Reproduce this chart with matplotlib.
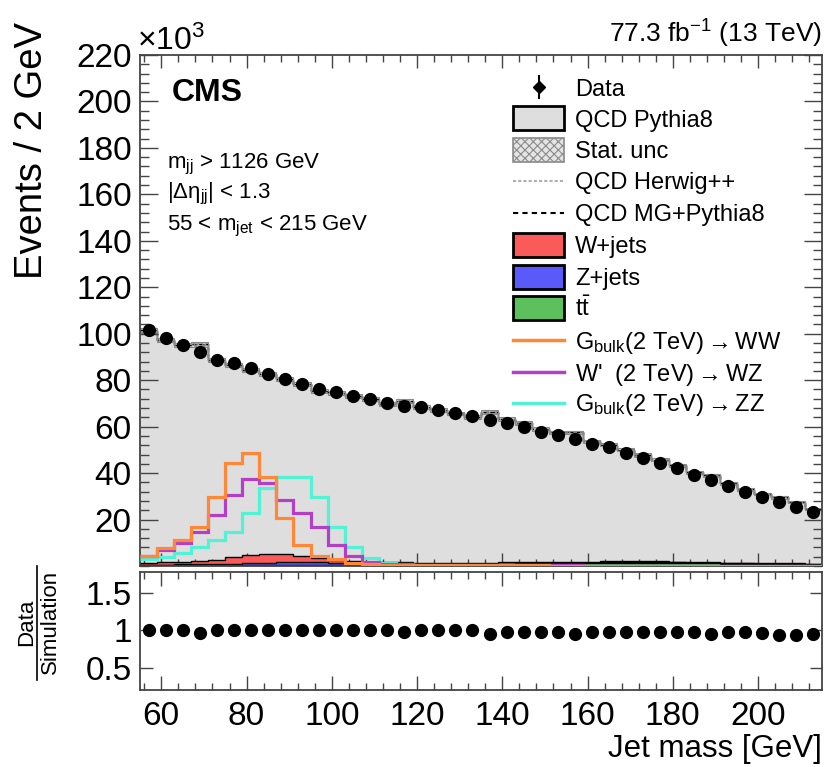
import numpy as np
import matplotlib
matplotlib.use('Agg')
import matplotlib.pyplot as plt
from matplotlib.patches import Rectangle
from matplotlib.lines import Line2D
from matplotlib.ticker import MultipleLocator, FixedLocator, FixedFormatter

plt.rcParams['font.family'] = ['Liberation Sans', 'DejaVu Sans']
plt.rcParams['mathtext.fontset'] = 'custom'
plt.rcParams['mathtext.rm'] = 'Liberation Sans'
plt.rcParams['mathtext.it'] = 'Liberation Sans:italic'
plt.rcParams['mathtext.bf'] = 'Liberation Sans:bold'
plt.rcParams['mathtext.fallback'] = 'stixsans'
plt.rcParams['hatch.linewidth'] = 0.8

# ---------------- data (values in units of 10^3 events) ----------------
bin_edges = list(range(55, 216, 4))   # 40 bins of 4 GeV, 55..215

data = [101.7, 98.1, 95.3, 92.0, 88.8, 87.4, 85.2, 82.8, 80.5, 78.3,
        76.1, 74.7, 73.3, 72.0, 70.2, 69.0, 68.4, 67.2, 65.8, 64.4,
        62.9, 61.5, 59.8, 57.9, 56.5, 54.6, 52.6, 51.2, 48.6, 46.4,
        44.3, 42.1, 39.2, 37.1, 34.5, 32.0, 29.9, 27.7, 25.6, 23.4]

qcd_pythia = [101.5, 97.3, 95.2, 95.4, 88.7, 86.6, 84.4, 82.6, 80.4, 78.2,
              75.4, 74.6, 73.2, 71.9, 69.6, 71.0, 68.3, 67.1, 65.7, 64.3,
              66.2, 63.4, 61.6, 59.1, 57.6, 57.5, 53.7, 52.2, 50.1, 47.8,
              45.7, 43.4, 40.4, 39.1, 35.6, 33.0, 31.1, 29.5, 27.5, 24.6]

stat_unc = [1.0, 1.0, 1.0, 1.0, 0.9, 0.9, 0.9, 0.9, 0.9, 0.9,
            0.9, 0.9, 0.9, 0.9, 0.8, 0.8, 0.8, 0.8, 0.8, 0.8,
            0.8, 0.8, 0.8, 0.8, 0.7, 0.7, 0.7, 0.7, 0.7, 0.7,
            0.7, 0.6, 0.6, 0.6, 0.6, 0.6, 0.5, 0.5, 0.5, 0.5]

wjets = [0.9, 1.0, 1.1, 1.3, 1.8, 2.8, 3.6, 3.8, 3.4, 2.6,
         1.8, 1.2, 0.9, 0.8, 0.7, 0.7, 0.6, 0.6, 0.6, 0.5,
         0.5, 0.5, 0.5, 0.5, 0.4, 0.4, 0.4, 0.4, 0.4, 0.4,
         0.4, 0.3, 0.3, 0.3, 0.3, 0.3, 0.3, 0.3, 0.3, 0.3]
zjets = [0.3, 0.3, 0.35, 0.4, 0.45, 0.5, 0.6, 0.8, 1.1, 1.3,
         1.1, 0.8, 0.6, 0.45, 0.4, 0.35, 0.3, 0.3, 0.3, 0.3,
         0.25, 0.25, 0.25, 0.25, 0.25, 0.2, 0.2, 0.2, 0.2, 0.2,
         0.2, 0.2, 0.2, 0.2, 0.2, 0.2, 0.2, 0.2, 0.2, 0.2]
ttbar = [0.3, 0.3, 0.3, 0.35, 0.4, 0.45, 0.5, 0.5, 0.5, 0.5,
         0.45, 0.45, 0.45, 0.45, 0.5, 0.5, 0.5, 0.55, 0.6, 0.65,
         0.7, 0.8, 0.9, 1.0, 1.1, 1.2, 1.3, 1.4, 1.5, 1.5,
         1.5, 1.4, 1.3, 1.1, 1.0, 0.9, 0.8, 0.7, 0.6, 0.5]

sig_ww = [4.5, 7.6, 11.0, 17.0, 29.6, 44.3, 48.6, 38.5, 20.5, 9.0,
          4.5, 3.0, 1.5, 0.9, 0.6, 0.5, 0.4, 0.4, 0.3, 0.3,
          0.3, 0.3, 0.3, 0.3, 0.2, 0.2, 0.2, 0.2, 0.2, 0.2,
          0.2, 0.2, 0.2, 0.2, 0.1, 0.1, 0.1, 0.1, 0.1, 0.1]
sig_wz = [4.5, 6.8, 10.0, 14.5, 22.0, 30.6, 37.4, 35.6, 28.4, 22.7,
          17.0, 9.0, 4.5, 1.8, 1.0, 0.7, 0.5, 0.5, 0.4, 0.4,
          0.4, 0.3, 0.3, 0.3, 0.3, 0.3, 0.2, 0.2, 0.2, 0.2,
          0.2, 0.2, 0.2, 0.2, 0.2, 0.1, 0.1, 0.1, 0.1, 0.1]
sig_zz = [3.0, 4.0, 5.5, 8.0, 11.2, 14.8, 23.0, 33.5, 38.5, 38.5,
          29.9, 16.9, 8.3, 3.3, 1.5, 0.8, 0.6, 0.5, 0.5, 0.4,
          0.4, 0.3, 0.3, 0.3, 0.3, 0.3, 0.2, 0.2, 0.2, 0.2,
          0.2, 0.2, 0.2, 0.2, 0.2, 0.1, 0.1, 0.1, 0.1, 0.1]

ratio = [1.00, 1.01, 1.00, 0.96, 1.00, 1.01, 1.01, 1.00, 1.00, 1.00,
         1.01, 1.00, 1.00, 1.00, 1.01, 0.97, 1.00, 1.00, 1.00, 1.00,
         0.95, 0.97, 0.97, 0.98, 0.98, 0.95, 0.98, 0.98, 0.97, 0.97,
         0.97, 0.97, 0.97, 0.95, 0.97, 0.97, 0.96, 0.94, 0.93, 0.95]

y_ticks = [20, 40, 60, 80, 100, 120, 140, 160, 180, 200, 220]
x_ticks = [60, 80, 100, 120, 140, 160, 180, 200]
r_ticks = [0.5, 1.0, 1.5]
r_tick_labels = ['0.5', '1', '1.5']

legend_labels = ['Data', 'QCD Pythia8', 'Stat. unc', 'QCD Herwig++', 'QCD MG+Pythia8',
                 'W+jets', 'Z+jets', r't$\bar{\mathrm{t}}$',
                 r'G$_{\mathrm{bulk}}$(2 TeV)$\rightarrow$WW',
                 r"W'  (2 TeV)$\rightarrow$WZ",
                 r'G$_{\mathrm{bulk}}$(2 TeV)$\rightarrow$ZZ']

# ---------------- styles ----------------
C_QCD = '#dedede'
C_W = '#fa5a5a'
C_Z = '#5a5afa'
C_TT = '#5cc05c'
C_WW = '#ff8838'
C_WZ = '#b23fc6'
C_ZZ = '#52f2d4'
FRAME = '#444444'

W, H = 827, 767
fig = plt.figure(figsize=(W / 100, H / 100), dpi=100)

def ftext(x, y, s, **kw):
    return fig.text(x / W, 1 - y / H, s, **kw)

edges = np.array(bin_edges, dtype=float)
centers = 0.5 * (edges[:-1] + edges[1:])
qcd = np.array(qcd_pythia)
unc = np.array(stat_unc)

ax = fig.add_axes([140 / W, 1 - 566 / H, 682 / W, 511 / H])
rax = fig.add_axes([140 / W, 1 - 690 / H, 682 / W, 118 / H])

# QCD fill
ax.stairs(qcd, edges, fill=True, facecolor=C_QCD, edgecolor='none', zorder=1)
ax.stairs(qcd, edges, baseline=None, color='k', lw=1.0, zorder=1.1)
# other QCD generators (coincide with data)
ax.stairs(qcd, edges, baseline=None, color='#b0b0b0', lw=1.0, ls=(0, (1.5, 1.0)), zorder=1.15)
ax.stairs(qcd, edges, baseline=None, color='k', lw=1.0, ls=(0, (2.5, 2.0)), zorder=1.16)
# stat unc band
ax.stairs(qcd + unc, edges, baseline=qcd - unc, fill=True, facecolor='none',
          edgecolor='#8a8a8a', hatch='xxxx', lw=0.8, zorder=1.2)

# small backgrounds (stacked)
s1 = np.array(ttbar)
s2 = s1 + np.array(zjets)
s3 = s2 + np.array(wjets)
ax.stairs(s3, edges, fill=True, facecolor=C_W, edgecolor='k', lw=1.0, zorder=2)
ax.stairs(s2, edges, fill=True, facecolor=C_Z, edgecolor='k', lw=1.0, zorder=2.1)
ax.stairs(s1, edges, fill=True, facecolor=C_TT, edgecolor='k', lw=1.0, zorder=2.2)

# signals
ax.stairs(sig_zz, edges, baseline=None, color=C_ZZ, lw=2.3, zorder=3)
ax.stairs(sig_wz, edges, baseline=None, color=C_WZ, lw=2.3, zorder=3.1)
ax.stairs(sig_ww, edges, baseline=None, color=C_WW, lw=2.3, zorder=3.2)

# data
ax.plot(centers, data, 'o', color='k', ms=8.5, zorder=5, clip_on=False)

ax.set_xlim(55, 215)
ax.set_ylim(0, 220)
ax.yaxis.set_major_locator(FixedLocator(y_ticks))
ax.yaxis.set_minor_locator(MultipleLocator(4))
ax.xaxis.set_major_locator(FixedLocator(x_ticks))
ax.xaxis.set_minor_locator(MultipleLocator(4))
ax.tick_params(which='both', direction='in', top=True, right=True, labelbottom=False,
               color=FRAME, width=1.0)
ax.tick_params(axis='y', which='major', length=13, labelsize=24, pad=6)
ax.tick_params(axis='y', which='minor', length=6.5)
ax.tick_params(axis='x', which='major', length=9.5)
ax.tick_params(axis='x', which='minor', length=5)

# ratio panel
rax.plot(centers, ratio, 'o', color='k', ms=8.5, zorder=5)
rax.set_xlim(55, 215)
rax.set_ylim(0.2, 1.78)
rax.yaxis.set_major_locator(FixedLocator(r_ticks))
rax.yaxis.set_major_formatter(FixedFormatter(r_tick_labels))
rax.xaxis.set_major_locator(FixedLocator(x_ticks))
rax.xaxis.set_minor_locator(MultipleLocator(4))
rax.tick_params(which='both', direction='in', top=True, right=True, color=FRAME, width=1.0)
rax.tick_params(axis='y', which='major', length=9, labelsize=24, pad=6)
rax.tick_params(axis='x', which='major', length=10, labelsize=24, pad=8)
rax.tick_params(axis='x', which='minor', length=5)

for a in (ax, rax):
    for sp in a.spines.values():
        sp.set_color(FRAME)
        sp.set_linewidth(1.3)

# texts
ftext(32, 22, 'Events / 2 GeV', rotation=90, ha='center', va='top', fontsize=27.5)
ftext(822, 757, 'Jet mass [GeV]', ha='right', va='baseline', fontsize=22.5)
ftext(137, 50, r'×10$^{3}$', ha='left', va='baseline', fontsize=23)
ftext(822, 43, r'77.3 fb$^{-1}$ (13 TeV)', ha='right', va='baseline', fontsize=19)
ftext(172, 101, 'CMS', ha='left', va='baseline', fontsize=23, fontweight='bold')
ftext(167, 168, r'm$_{\mathrm{jj}}$ > 1126 GeV', ha='left', va='baseline', fontsize=16)
ftext(167, 198, r'|Δη$_{\mathrm{jj}}$| < 1.3', ha='left', va='baseline', fontsize=16)
ftext(167, 230, r'55 < m$_{\mathrm{jet}}$ < 215 GeV', ha='left', va='baseline', fontsize=16)

ftext(27, 622, 'Data', rotation=90, ha='center', va='center', fontsize=16)
ftext(50, 622, 'Simulation', rotation=90, ha='center', va='center', fontsize=16)

# overlay in pixel coordinates for legend and fraction bar
lax = fig.add_axes([0, 0, 1, 1], zorder=10)
lax.set_xlim(0, W)
lax.set_ylim(H, 0)
lax.axis('off')
lax.add_line(Line2D([37, 37], [566, 680], color='k', lw=1.2))

rows = [87, 118, 150, 181, 213, 245, 277, 308, 340, 372, 403]
hx0, hx1, tx = 513, 564, 575
hm = 0.5 * (hx0 + hx1)
bh = 24
# Data
lax.add_line(Line2D([hm, hm], [rows[0] - 11, rows[0] + 11], color='k', lw=1.5))
lax.add_line(Line2D([hm], [rows[0]], marker='D', color='k', ms=6))
lax.add_patch(Rectangle((hx0, rows[1] - bh / 2), hx1 - hx0, bh, fc=C_QCD, ec='k', lw=2))
lax.add_patch(Rectangle((hx0, rows[2] - bh / 2), hx1 - hx0, bh, fc='#e4e4e4', ec='#8a8a8a',
                        hatch='xxxx', lw=1.2))
lax.add_line(Line2D([hx0, hx1], [rows[3]] * 2, color='#b0b0b0', lw=1.5, ls=(0, (1.5, 1.0))))
lax.add_line(Line2D([hx0, hx1], [rows[4]] * 2, color='k', lw=1.5, ls=(0, (2.5, 2.0))))
for r, c in zip(rows[5:8], [C_W, C_Z, C_TT]):
    lax.add_patch(Rectangle((hx0, r - bh / 2), hx1 - hx0, bh, fc=c, ec='k', lw=2))
for r, c in zip(rows[8:11], [C_WW, C_WZ, C_ZZ]):
    lax.add_line(Line2D([hx0, hx1], [r] * 2, color=c, lw=2.5))
for r, lab in zip(rows, legend_labels):
    lax.text(tx, r + 8.5, lab, ha='left', va='baseline', fontsize=17)

fig.savefig('out.png', dpi=100)
